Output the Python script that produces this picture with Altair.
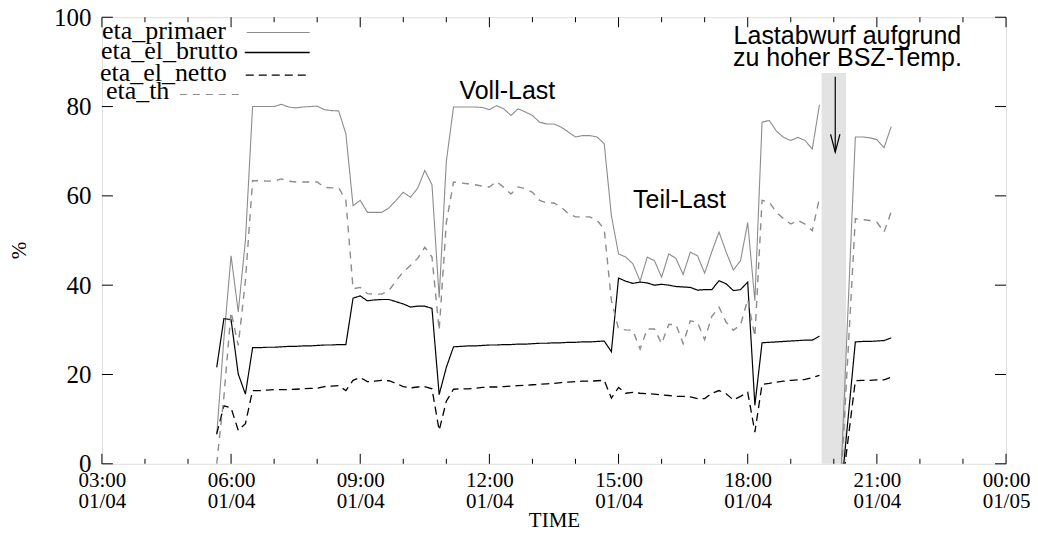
import altair as alt
import pandas as pd

# ---------------- data ----------------
DAY = "2000-01-04"

times = [
    "05:40", "05:50",
    "06:00", "06:10", "06:20", "06:30", "06:40", "06:50",
    "07:00", "07:10", "07:20", "07:30", "07:40", "07:50",
    "08:00", "08:10", "08:20", "08:30", "08:40", "08:50",
    "09:00", "09:10", "09:20", "09:30", "09:40", "09:50",
    "10:00", "10:10", "10:20", "10:30", "10:40", "10:50",
    "11:00", "11:10", "11:20", "11:30", "11:40", "11:50",
    "12:00", "12:10", "12:20", "12:30", "12:40", "12:50",
    "13:00", "13:10", "13:20", "13:30", "13:40", "13:50",
    "14:00", "14:10", "14:20", "14:30", "14:40", "14:50",
    "15:00", "15:10", "15:20", "15:30", "15:40", "15:50",
    "16:00", "16:10", "16:20", "16:30", "16:40", "16:50",
    "17:00", "17:10", "17:20", "17:30", "17:40", "17:50",
    "18:00", "18:10", "18:20", "18:30", "18:40", "18:50",
    "19:00", "19:10", "19:20", "19:30", "19:40",
    # after the load shedding gap
    "20:08", "20:30", "20:40", "20:50", "21:00", "21:10", "21:20",
]
run = [0] * 85 + [1] * 7

eta_primaer = [
    6.5, 28, 46.6, 34, 50, 80, 80, 80, 80, 80.5,
    79.9, 79.7, 79.9, 80, 80.1, 79.3, 79.1, 79, 73.9, 57.8,
    59, 56.3, 56.3, 56.3, 57.3, 59, 60.8, 59.7, 61.7, 65.7,
    62.5, 37.2, 67.7, 79.9, 79.9, 79.9, 79.9, 79.8, 79.3, 80.2,
    79.5, 78, 79.5, 78.8, 78, 76.5, 76.1, 76.1, 75.4, 74.3,
    73.2, 73.5, 73.5, 73.2, 71.7, 55.6, 47, 46.3, 44.8, 40.9,
    46.3, 45.5, 41.8, 47, 46, 42.4, 47.4, 46.6, 42.7, 47.5,
    51.9, 47.4, 43.4, 45.5, 54, 36.5, 76.5, 76.9, 74.5, 73.1,
    72.4, 73.1, 72.4, 70.5, 80.4,
    -10, 73.2, 73.2, 73, 72.6, 70.8, 75.5,
]
eta_el_brutto = [
    21.6, 32.5, 32.3, 20.1, 15.6, 26, 26, 26.1, 26.1, 26.2,
    26.3, 26.3, 26.4, 26.4, 26.5, 26.6, 26.6, 26.7, 26.7, 37.1,
    37.6, 36.5, 36.7, 36.8, 36.8, 36.3, 35.8, 35.1, 35.3, 35.3,
    34.8, 15.5, 21.6, 26.2, 26.3, 26.4, 26.4, 26.5, 26.6, 26.6,
    26.7, 26.7, 26.8, 26.8, 26.9, 27, 27, 27.1, 27.1, 27.2,
    27.2, 27.3, 27.3, 27.4, 27.5, 25.1, 41.6, 40.9, 40.4, 40.7,
    40.5, 40, 40.2, 40, 39.7, 39.6, 39.5, 38.9, 39, 39,
    41, 40.3, 38.8, 39, 40.7, 13.1, 27.1, 27.2, 27.3, 27.4,
    27.5, 27.6, 27.7, 27.7, 28.6,
    -10, 27.3, 27.4, 27.4, 27.5, 27.6, 28.2,
]
eta_el_netto = [
    6.7, 13, 12.5, 7.5, 9, 16.4, 16.4, 16.5, 16.6, 16.6,
    16.6, 16.7, 16.8, 16.9, 16.9, 17.3, 17.4, 17.5, 16.4, 18.7,
    19.3, 18.4, 18.5, 18.7, 18.6, 18, 17.3, 17, 17.2, 17.3,
    16.8, 7.5, 14, 16.7, 16.8, 16.8, 16.9, 17.1, 17.2, 17.2,
    17.3, 17.4, 17.5, 17.6, 17.7, 17.8, 17.9, 18, 18.2, 18.3,
    18.4, 18.5, 18.5, 18.6, 18.7, 14.7, 17.1, 15.8, 16, 15.8,
    15.7, 15.6, 15.4, 15.3, 15.1, 15.1, 15, 14.6, 14.6, 15.8,
    16.4, 15.7, 14.3, 15.1, 16, 7.1, 17.8, 18, 18.3, 18.5,
    18.7, 18.8, 18.9, 19.3, 19.8,
    -10, 18.6, 18.7, 18.7, 18.8, 18.8, 19.4,
]
eta_th = [
    0, 15, 34, 26.5, 41, 63.4, 63.4, 63.3, 63.3, 63.8,
    63.3, 63.1, 63.1, 63.1, 63.1, 61.9, 61.8, 61.8, 59, 39.2,
    39.5, 38.1, 38, 38, 38.8, 41, 43, 44.4, 46, 48.5,
    46.3, 29.9, 54, 63.1, 62.9, 62.7, 62.5, 62.2, 62, 63.2,
    61.9, 60.4, 62, 61.6, 60.8, 59, 58.4, 58.4, 57.5, 56,
    55.3, 55.3, 55.3, 54.5, 52.6, 36.6, 30.2, 30, 29.9, 25.7,
    30.2, 30.2, 26.9, 31.2, 31.2, 26.9, 32, 31.7, 27.8, 33,
    35.1, 31.7, 29.9, 31.1, 36.8, 28.5, 59, 58.6, 56.3, 54.9,
    53.7, 54.5, 53.7, 52.2, 59.5,
    -10, 54.9, 54.7, 54.5, 54.1, 51.9, 56.4,
]

series_names = ["eta_primaer", "eta_el_brutto", "eta_el_netto", "eta_th"]
series_values = [eta_primaer, eta_el_brutto, eta_el_netto, eta_th]
series_colors = ["#8c8c8c", "#000000", "#000000", "#8c8c8c"]
series_dash = [[1, 0], [1, 0], [8, 5], [7, 6]]
series_width = [1.1, 1.4, 1.3, 1.1]

# x axis ticks (every hour)
tick_times = [
    "2000-01-04T03:00", "2000-01-04T04:00", "2000-01-04T05:00",
    "2000-01-04T06:00", "2000-01-04T07:00", "2000-01-04T08:00",
    "2000-01-04T09:00", "2000-01-04T10:00", "2000-01-04T11:00",
    "2000-01-04T12:00", "2000-01-04T13:00", "2000-01-04T14:00",
    "2000-01-04T15:00", "2000-01-04T16:00", "2000-01-04T17:00",
    "2000-01-04T18:00", "2000-01-04T19:00", "2000-01-04T20:00",
    "2000-01-04T21:00", "2000-01-04T22:00", "2000-01-04T23:00",
    "2000-01-05T00:00",
]
major_hours = [3, 6, 9, 12, 15, 18, 21]
y_ticks = [0, 20, 40, 60, 80, 100]

# shaded band (load shedding) and arrow
band_start = "19:43"
band_end = "20:17"
band_top = 87.5
arrow_time = "20:02"
arrow_top = 86.7
arrow_tip = 69.8
head_times = ["19:55:30", "20:02:00", "20:08:30"]
head_values = [73.8, 69.8, 73.8]

# annotations
annot_text = ["Voll-Last", "Teil-Last", "Lastabwurf aufgrund", "zu hoher BSZ-Temp."]
annot_time = ["12:25", "16:25", "20:19", "20:19"]
annot_value = [81.8, 57.2, 93.9, 89.0]

# ---------------- build ----------------
W, H = 905, 447


def ts(values):
    return pd.to_datetime(list(values), format="ISO8601")


rows = []
for name, vals in zip(series_names, series_values):
    for t, v, r in zip(times, vals, run):
        rows.append({"time": f"{DAY}T{t}", "value": v, "series": name, "run": r})
df = pd.DataFrame(rows)
df["time"] = ts(df["time"])

xscale = alt.Scale(domain=[alt.DateTime(year=2000, month=1, date=4, hours=3),
                           alt.DateTime(year=2000, month=1, date=5, hours=0)])
yscale = alt.Scale(domain=[0, 100], nice=False, zero=False)

xaxis = alt.Axis(
    values=[alt.DateTime(year=2000, month=1, date=4, hours=h) for h in major_hours]
    + [alt.DateTime(year=2000, month=1, date=5, hours=0)],
    labelExpr="[timeFormat(datum.value, '%H:%M'), timeFormat(datum.value, '%m/%d')]",
    ticks=False, tickSize=0, domain=False, grid=False,
    labelFont="Liberation Serif", labelFontSize=21, labelColor="black",
    labelPadding=6, labelLineHeight=21, labelFlush=False, labelOverlap=False,
    labelBaseline="top",
    title="TIME", titleFont="Liberation Serif", titleFontSize=21,
    titleFontWeight="normal", titleColor="black", titleY=63,
    titleBaseline="alphabetic",
)
yaxis = alt.Axis(
    values=y_ticks, ticks=False, tickSize=0, domain=False, grid=False,
    labelFont="Liberation Serif", labelFontSize=25, labelColor="black",
    labelPadding=11,
    title="%", titleFont="Liberation Serif", titleFontSize=21,
    titleFontWeight="normal", titleColor="black", titleX=-82, titleY=233,
    titleBaseline="middle",
)


def X(f="time"):
    return alt.X(f"{f}:T", scale=xscale, axis=xaxis)


def Y(f="value"):
    return alt.Y(f"{f}:Q", scale=yscale, axis=yaxis)


band_df = pd.DataFrame({
    "time": ts([f"{DAY}T{band_start}"]),
    "time_end": ts([f"{DAY}T{band_end}"]),
    "value": [0.0], "value_end": [band_top],
})
band = alt.Chart(band_df).mark_rect(color="#e3e3e3").encode(
    x=X(), x2="time_end:T", y=Y(), y2="value_end:Q")

lines = alt.Chart(df).mark_line(clip=True).encode(
    x=X(), y=Y(),
    color=alt.Color("series:N", scale=alt.Scale(domain=series_names, range=series_colors), legend=None),
    strokeDash=alt.StrokeDash("series:N", scale=alt.Scale(domain=series_names, range=series_dash), legend=None),
    strokeWidth=alt.StrokeWidth("series:N", scale=alt.Scale(domain=series_names, range=series_width), legend=None),
    detail="run:N",
)

tick_df = pd.DataFrame({"time": ts(tick_times)})
tick_df["major"] = tick_df["time"].dt.hour.isin(major_hours + [0])
maj = tick_df[tick_df["major"]]
mnr = tick_df[~tick_df["major"]]
tick_layers = []
for d, L in [(maj, 10), (mnr, 5)]:
    tick_layers.append(alt.Chart(d).mark_rule(color="black", strokeWidth=1).encode(
        x=X(), y=alt.value(H), y2=alt.value(H - L)))
    tick_layers.append(alt.Chart(d).mark_rule(color="black", strokeWidth=1).encode(
        x=X(), y=alt.value(0), y2=alt.value(L)))
yt_df = pd.DataFrame({"value": y_ticks})
tick_layers.append(alt.Chart(yt_df).mark_rule(color="black", strokeWidth=1).encode(
    y=Y(), x=alt.value(0), x2=alt.value(11)))
tick_layers.append(alt.Chart(yt_df).mark_rule(color="black", strokeWidth=1).encode(
    y=Y(), x=alt.value(W - 11), x2=alt.value(W)))

arrow_df = pd.DataFrame({"time": ts([f"{DAY}T{arrow_time}"]),
                         "value": [arrow_top], "value_end": [arrow_tip]})
arrow = alt.Chart(arrow_df).mark_rule(color="black", strokeWidth=1.2).encode(
    x=X(), y=Y(), y2="value_end:Q")
head_df = pd.DataFrame({"time": ts([f"{DAY}T{t}" for t in head_times]),
                        "value": head_values})
head = alt.Chart(head_df).mark_line(color="black", strokeWidth=1.2).encode(x=X(), y=Y())

annot_df = pd.DataFrame({"time": ts([f"{DAY}T{t}" for t in annot_time]),
                         "value": annot_value, "text": annot_text})
annot = alt.Chart(annot_df).mark_text(
    font="Liberation Sans", fontSize=25, align="center", baseline="alphabetic", color="black"
).encode(x=X(), y=Y(), text="text:N")

# legend (gnuplot style: label then line sample), layout constants in pixels
leg_text_x = [0, -1, -2, 4]
leg_text_y = [21.5, 41.5, 64, 81.5]
leg_line_x = [(145, 208), (143, 208), (144, 208), (78, 141)]
leg_line_y = [15.3, 35.3, 58, 77.3]
dummy = pd.DataFrame({"a": [0]})
legend_layers = []
for i, name in enumerate(series_names):
    legend_layers.append(alt.Chart(dummy).mark_text(
        text=name, font="Liberation Serif", fontSize=26, align="left",
        baseline="alphabetic", color="black"
    ).encode(x=alt.value(leg_text_x[i]), y=alt.value(leg_text_y[i])))
    legend_layers.append(alt.Chart(dummy).mark_rule(
        color=series_colors[i], strokeDash=series_dash[i], strokeWidth=series_width[i]
    ).encode(x=alt.value(leg_line_x[i][0]), x2=alt.value(leg_line_x[i][1]),
             y=alt.value(leg_line_y[i])))

chart = alt.layer(band, lines, *tick_layers, arrow, head, annot, *legend_layers).properties(
    width=W, height=H,
    autosize=alt.AutoSizeParams(type="none"),
    padding={"left": 94, "top": 9, "right": 24, "bottom": 68},
).configure_view(stroke="black", strokeWidth=1.2).configure(background="white")

chart.save("out.html", embed_options={"renderer": "svg", "actions": False})
